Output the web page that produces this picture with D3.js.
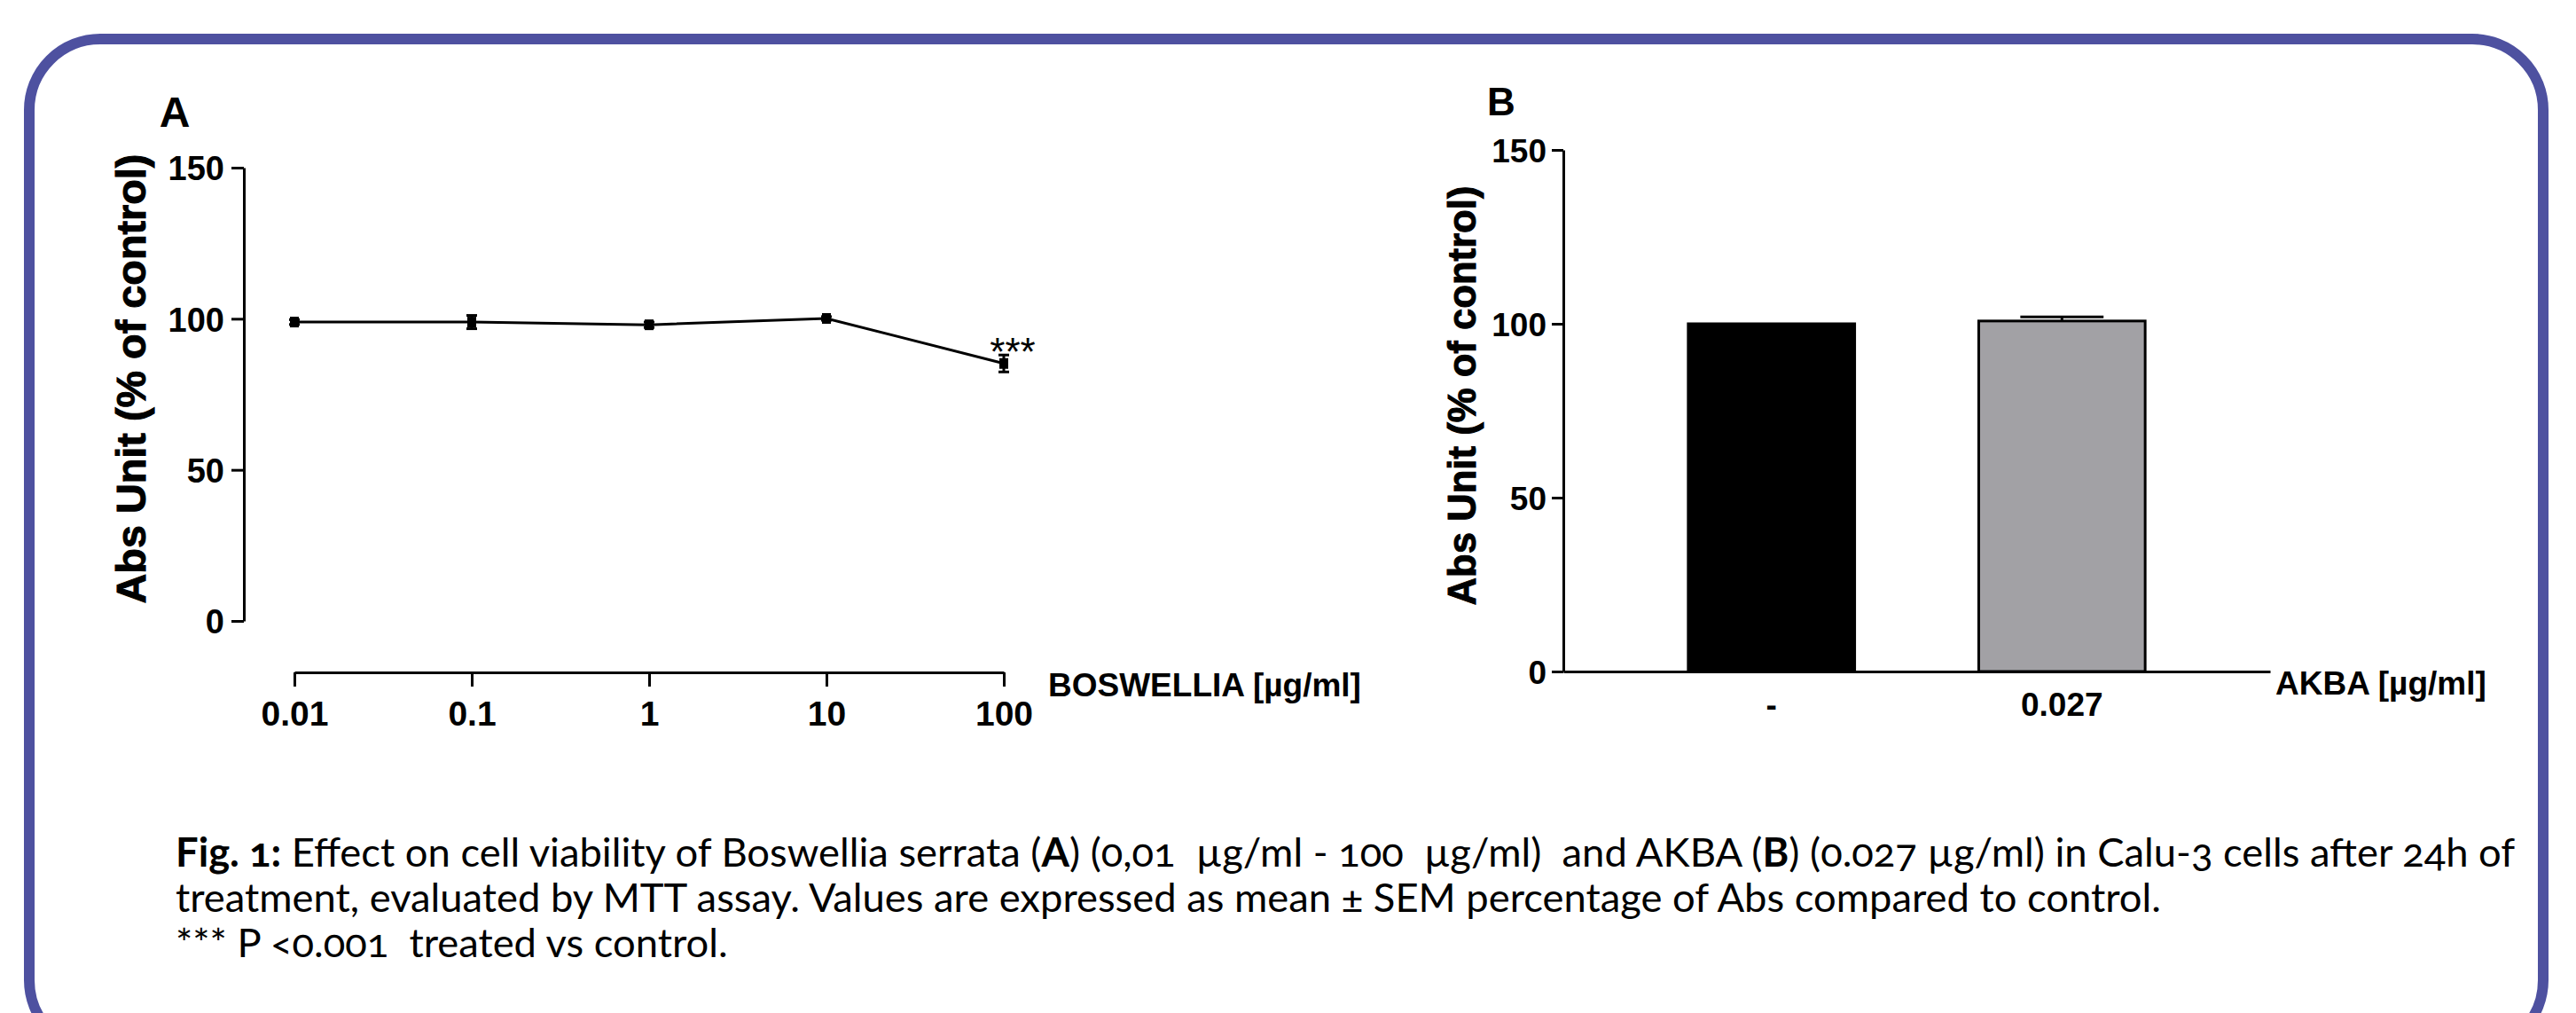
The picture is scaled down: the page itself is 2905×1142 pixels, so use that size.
<!DOCTYPE html>
<html>
<head>
<meta charset="utf-8">
<script src="https://cdn.jsdelivr.net/npm/d3@7"></script>
<style>
  body { margin: 0; background: #fff; }
  .bold { font-family: "Liberation Sans", Arial, sans-serif; font-weight: bold; }
  .caption { font-family: Lato, "Open Sans", sans-serif; white-space: pre; font-variant-numeric: oldstyle-nums; }
</style>
</head>
<body>
<svg width="2905" height="1142" id="fig"></svg>
<script>
// panel A : Boswellia dose response
var doses = [0.01, 0.1, 1, 10, 100];
var doseLabels = ["0.01", "0.1", "1", "10", "100"];
var viabilityA = [98.9, 98.9, 98.0, 100.1, 85.2];
var semA = [0.8, 2.2, 0.9, 0.6, 2.8];

// panel B : AKBA
var groupsB = ["-", "0.027"];
var viabilityB = [100, 100.8];
var semB = [0, 1.2];
var colorsB = ["#000000", "#a2a1a5"];

var yTicks = [0, 50, 100, 150];

var caption = [
  [["Fig. 1:", true], [" Effect on cell viability of Boswellia serrata (", false], ["A", true],
   [") (0,01  µg/ml - 100  µg/ml)  and AKBA (", false], ["B", true],
   [") (0.027 µg/ml) in Calu-3 cells after 24h of", false]],
  [["treatment, evaluated by MTT assay. Values are expressed as mean ± SEM percentage of Abs compared to control.", false]],
  [["*** P <0.001  treated vs control.", false]]
];

var svg = d3.select("#fig");

// frame
svg.append("rect")
  .attr("x", 33).attr("y", 44)
  .attr("width", 2835).attr("height", 1141)
  .attr("rx", 80).attr("ry", 80)
  .style("fill", "none").style("stroke", "#4e51a0").style("stroke-width", 12);

function fitLength(sel, target) {
  var w = sel.node().getComputedTextLength();
  var fs = parseFloat(sel.style("font-size"));
  sel.style("font-size", (fs * target / w) + "px");
}

function styleAxis(g, fs) {
  g.selectAll("path, line").style("stroke", "#000").style("stroke-width", 3);
  g.selectAll("text").attr("class", "bold").style("font-size", fs + "px").style("fill", "#000");
}

// ---------- panel A ----------
var xA = d3.scaleLog().domain([0.01, 100]).range([332, 1132]);
var yA = d3.scaleLinear().domain([0, 150]).range([700, 189]);

var gyA = svg.append("g").attr("transform", "translate(275,0)")
  .call(d3.axisLeft(yA).tickValues(yTicks).tickSize(14).tickSizeOuter(0).tickPadding(8));
styleAxis(gyA, 38);
gyA.selectAll("text").attr("dy", "0.36em");

var gxA = svg.append("g").attr("transform", "translate(0,758)")
  .call(d3.axisBottom(xA).tickValues(doses).tickSize(16).tickSizeOuter(0).tickPadding(16)
    .tickFormat(function(d, i) { return doseLabels[i]; }));
styleAxis(gxA, 39);

svg.append("text").attr("class", "bold")
  .attr("x", 1182).attr("y", 785)
  .style("font-size", "37px")
  .text("BOSWELLIA [µg/ml]");

var titleA = svg.append("text").attr("class", "bold")
  .attr("transform", "translate(164,427) rotate(-90)")
  .attr("text-anchor", "middle")
  .style("font-size", "46px")
  .style("stroke", "#000").style("stroke-width", 1)
  .text("Abs Unit (% of control)");
fitLength(titleA, 507);

svg.append("text").attr("class", "bold")
  .attr("x", 197).attr("y", 143).attr("text-anchor", "middle")
  .style("font-size", "48px").text("A");

var ptsA = doses.map(function(d, i) { return { x: d, y: viabilityA[i], e: semA[i] }; });

svg.append("path")
  .datum(ptsA)
  .attr("d", d3.line().x(function(d) { return xA(d.x); }).y(function(d) { return yA(d.y); }))
  .style("fill", "none").style("stroke", "#000").style("stroke-width", 3);

var err = svg.append("g").selectAll("g").data(ptsA).enter().append("g");
err.append("line")
  .attr("x1", function(d) { return xA(d.x); }).attr("x2", function(d) { return xA(d.x); })
  .attr("y1", function(d) { return yA(d.y + d.e); }).attr("y2", function(d) { return yA(d.y - d.e); })
  .style("stroke", "#000").style("stroke-width", 3);
[1, -1].forEach(function(s) {
  err.append("line")
    .attr("x1", function(d) { return xA(d.x) - 6; }).attr("x2", function(d) { return xA(d.x) + 6; })
    .attr("y1", function(d) { return yA(d.y + s * d.e); }).attr("y2", function(d) { return yA(d.y + s * d.e); })
    .style("stroke", "#000").style("stroke-width", 3);
});

svg.append("g").selectAll("rect").data(ptsA).enter().append("rect")
  .attr("x", function(d) { return xA(d.x) - 5; })
  .attr("y", function(d) { return yA(d.y) - 6; })
  .attr("width", 10).attr("height", 12)
  .style("fill", "#000");

svg.append("text")
  .attr("x", xA(100) + 10).attr("y", yA(viabilityA[4]) + 2)
  .attr("text-anchor", "middle")
  .style("font-family", "'Liberation Sans', Arial, sans-serif")
  .style("font-size", "44px")
  .text("***");

// ---------- panel B ----------
var xB = d3.scaleBand().domain(groupsB).range([1763, 2560]).paddingInner(0.427).paddingOuter(0.43);
var yB = d3.scaleLinear().domain([0, 150]).range([757, 169]);

var gyB = svg.append("g").attr("transform", "translate(1763,0)")
  .call(d3.axisLeft(yB).tickValues(yTicks).tickSize(13).tickSizeOuter(0).tickPadding(6));
styleAxis(gyB, 37);
gyB.selectAll("text").attr("dy", "0.36em");

svg.append("g").selectAll("rect").data(groupsB).enter().append("rect")
  .attr("x", function(d) { return xB(d); })
  .attr("y", function(d, i) { return yB(viabilityB[i]); })
  .attr("width", xB.bandwidth())
  .attr("height", function(d, i) { return yB(0) - yB(viabilityB[i]); })
  .style("fill", function(d, i) { return colorsB[i]; })
  .style("stroke", "#000").style("stroke-width", 3);

var errB = svg.append("g").selectAll("g").data(groupsB).enter().append("g")
  .filter(function(d, i) { return semB[i] > 0; });
errB.append("line")
  .attr("x1", function(d) { return xB(d) + xB.bandwidth() / 2; })
  .attr("x2", function(d) { return xB(d) + xB.bandwidth() / 2; })
  .attr("y1", function(d) { var i = groupsB.indexOf(d); return yB(viabilityB[i]); })
  .attr("y2", function(d) { var i = groupsB.indexOf(d); return yB(viabilityB[i] + semB[i]); })
  .style("stroke", "#000").style("stroke-width", 3);
errB.append("line")
  .attr("x1", function(d) { return xB(d) + xB.bandwidth() / 4; })
  .attr("x2", function(d) { return xB(d) + xB.bandwidth() * 3 / 4; })
  .attr("y1", function(d) { var i = groupsB.indexOf(d); return yB(viabilityB[i] + semB[i]); })
  .attr("y2", function(d) { var i = groupsB.indexOf(d); return yB(viabilityB[i] + semB[i]); })
  .style("stroke", "#000").style("stroke-width", 3);

var gxB = svg.append("g").attr("transform", "translate(0,757)")
  .call(d3.axisBottom(xB).tickSize(0).tickSizeOuter(0).tickPadding(24));
styleAxis(gxB, 37);

svg.append("text").attr("class", "bold")
  .attr("x", 2566).attr("y", 783)
  .style("font-size", "37px")
  .text("AKBA [µg/ml]");

var titleB = svg.append("text").attr("class", "bold")
  .attr("transform", "translate(1664,446) rotate(-90)")
  .attr("text-anchor", "middle")
  .style("font-size", "43px")
  .style("stroke", "#000").style("stroke-width", 1)
  .text("Abs Unit (% of control)");
fitLength(titleB, 473);

svg.append("text").attr("class", "bold")
  .attr("x", 1693).attr("y", 130).attr("text-anchor", "middle")
  .style("font-size", "44px").text("B");

// ---------- caption ----------
var capLines = svg.append("g").selectAll("text").data(caption).enter().append("text")
  .attr("class", "caption")
  .attr("x", 198)
  .attr("y", function(d, i) { return 977 + i * 51; })
  .style("font-size", "38px");
capLines.selectAll("tspan").data(function(d) { return d; }).enter().append("tspan")
  .style("font-weight", function(d) { return d[1] ? "bold" : "normal"; })
  .text(function(d) { return d[0]; });

var first = d3.select(capLines.nodes()[0]);
var w = first.node().getComputedTextLength();
var fs = 38 * 2639 / w;
capLines.style("font-size", fs + "px");
</script>
</body>
</html>
